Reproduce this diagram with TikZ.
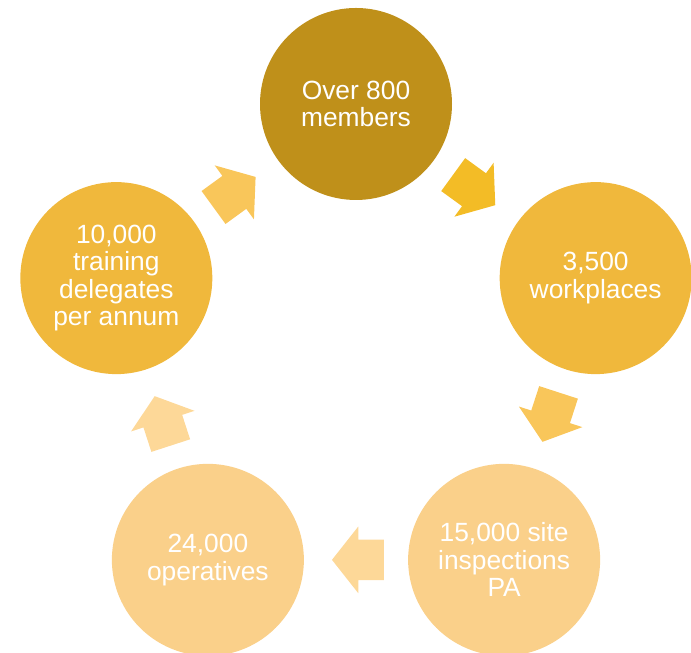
\documentclass[tikz,border=0pt]{standalone}
\usepackage{fontspec}
\setmainfont{Liberation Sans}
\usetikzlibrary{shapes.arrows,calc}
\definecolor{darkgold}{RGB}{191,144,26}
\definecolor{midgold}{RGB}{240,184,60}
\definecolor{lightgold}{RGB}{250,208,138}
\definecolor{arrowdark}{RGB}{243,188,38}
\definecolor{arrowmid}{RGB}{249,198,90}
\definecolor{arrowlight}{RGB}{253,216,152}

\begin{document}
\begin{tikzpicture}
   \useasboundingbox (0,0) rectangle (13.82,13.06);
   \fontsize{15}{15.6}\selectfont
   \tikzstyle{main}=[circle, minimum size=3.84cm, inner sep=0pt, text=white, align=center]
   \tikzstyle{flow}=[single arrow, minimum height=1.04cm, inner xsep=0pt, inner ysep=0.4cm, single arrow head extend=0.26cm, single arrow tip angle=103.5]
   \coordinate (mid) at (7.12,5.94);
   \foreach \i/\ang/\col/\txt in {1/90/darkgold/{Over 800\\members},2/18/midgold/{3,500\\workplaces},3/-54/lightgold/{15,000 site\\inspections\\PA},4/-126/lightgold/{24,000\\operatives},5/-198/midgold/{10,000\\training\\delegates\\per annum}} {
       \node[main, fill=\col] (c\i) at ([shift={(\ang:5.04)}]mid) {\txt};
   }
   \foreach \i/\j/\ang/\col in {1/2/54/arrowdark,2/3/-18/arrowmid,3/4/-90/arrowlight,4/5/-162/arrowlight,5/1/-234/arrowmid} {
       \node[flow, fill=\col, rotate=\ang-90] (a\i) at ($(c\i)!0.5!(c\j)!0.2cm!(c\i)$) {};
   }
\end{tikzpicture}
\end{document}
